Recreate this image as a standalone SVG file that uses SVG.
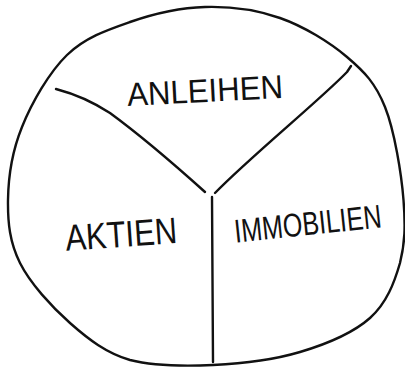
<svg xmlns="http://www.w3.org/2000/svg" width="405" height="369" viewBox="0 0 405 369">
<style>
.ln{fill:none;stroke:#111;stroke-width:2.4;stroke-linecap:round;stroke-linejoin:round}
.lbl{font-family:"Liberation Sans","DejaVu Sans",sans-serif;fill:#111;text-anchor:middle}
</style>
<rect width="405" height="369" fill="#fff"/>
<g id="outline">
<path class="ln" d="M205,7 C230,6.3 256.3,9.7 280,18 C303.7,26.3 329.5,42.2 347,57 C364.5,71.8 375.5,83.2 385,107 C394.5,130.8 401.5,174 403.5,200 C405.5,226 405,243.3 400,263 C394.3,282.7 386.7,303.2 370,318 C353.3,332.8 326.2,344.2 300,352 C273.8,359.8 241.3,363.7 213,365 C184.7,366.3 153.8,366 130,360 C106.2,353 88.3,339.2 70,323 C51.7,306.8 30.3,283.5 20,263 C9.7,242.5 7.7,222.7 8,200 C8.3,177.3 12.2,151.2 22,127 C31.8,102.8 49,72.5 67,55 C85,37.5 107,30 130,22 C153,14 180,7.7 205,7 Z"/>
</g>
<g id="connectors">
<path class="ln" d="M56,89 C75,94 90,100 110,113 C140,135 175,165 205,192"/>
<path class="ln" d="M351,66 L347,72 C320,100 250,157 215,193"/>
<path class="ln" stroke-width="2" d="M212,197 C212,260 213,320 213,362"/>
</g>
<g id="anleihen">
<text class="lbl" x="205" y="102" font-size="33" textLength="156" lengthAdjust="spacingAndGlyphs" transform="rotate(-3 205 90)">ANLEIHEN</text>
</g>
<g id="aktien">
<text class="lbl" x="121" y="247" font-size="37" textLength="112" lengthAdjust="spacingAndGlyphs" transform="rotate(-4 121 232)">AKTIEN</text>
</g>
<g id="immobilien">
<text class="lbl" x="0" y="0" font-size="33" transform="translate(309 235) rotate(-6) scale(0.76 1)">IMMOBILIEN</text>
</g>
</svg>
